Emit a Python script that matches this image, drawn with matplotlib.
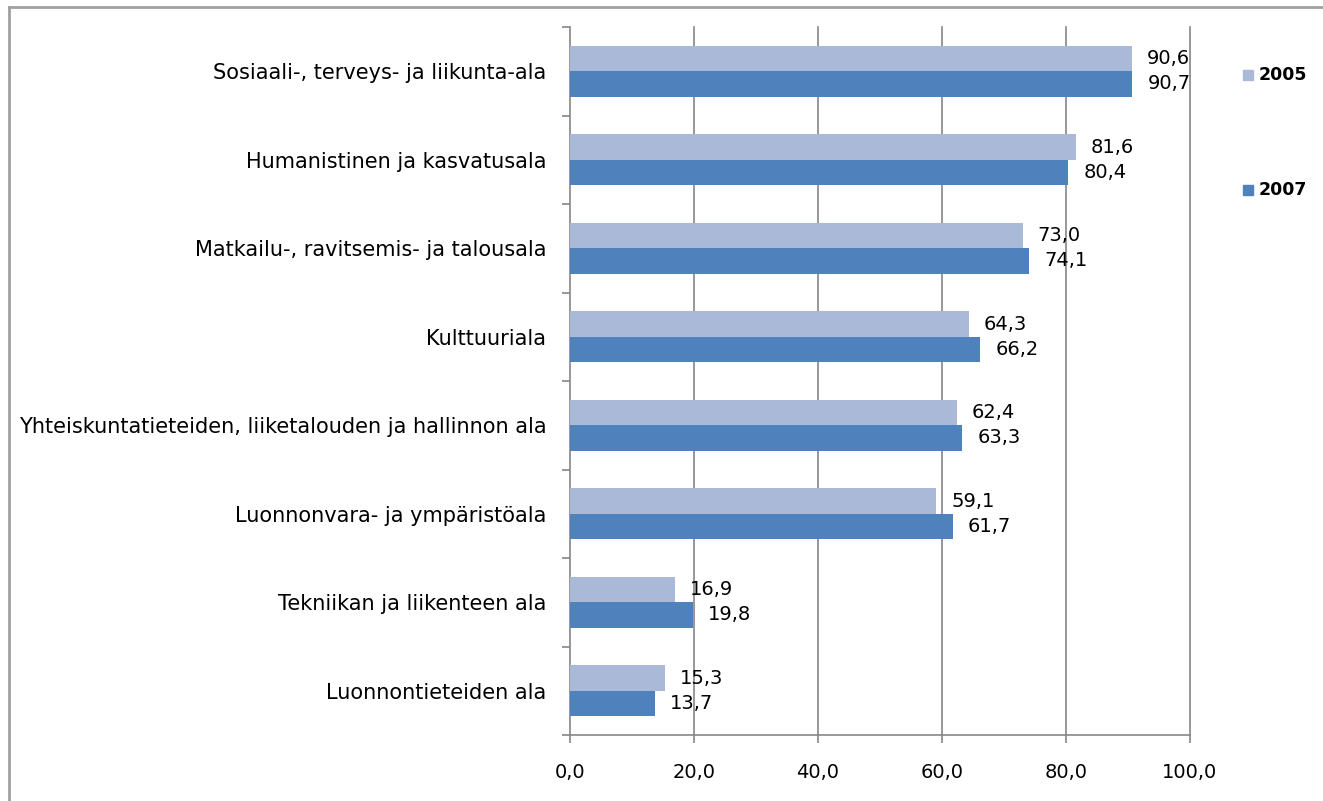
import numpy as np
import matplotlib.pyplot as plt
from matplotlib.lines import Line2D

categories = ["Sosiaali-, terveys- ja liikunta-ala",
              "Humanistinen ja kasvatusala",
              "Matkailu-, ravitsemis- ja talousala",
              "Kulttuuriala",
              "Yhteiskuntatieteiden, liiketalouden ja hallinnon ala",
              "Luonnonvara- ja ympäristöala",
              "Tekniikan ja liikenteen ala",
              "Luonnontieteiden ala"]
v2005 = [90.6, 81.6, 73.0, 64.3, 62.4, 59.1, 16.9, 15.3]
v2007 = [90.7, 80.4, 74.1, 66.2, 63.3, 61.7, 19.8, 13.7]
xticks = [0, 20, 40, 60, 80, 100]

c05 = "#AAB9D7"
c07 = "#4F81BD"
grid = "#868686"

plt.rcParams['font.family'] = ['DejaVu Sans']
fs = 15

fig = plt.figure(figsize=(13.23, 8.01), dpi=100)
ax = fig.add_axes([570/1323, 1-735/801, 620/1323, 708/801])

n = len(categories)
y = np.arange(n)
h = 0.288
b1 = ax.barh(y - h/2, v2005, height=h, color=c05, zorder=3)
b2 = ax.barh(y + h/2, v2007, height=h, color=c07, zorder=3)

def fmt(v):
    return ("%.1f" % v).replace(".", ",")

for bars, vals in ((b1, v2005), (b2, v2007)):
    for r, v in zip(bars, vals):
        ax.annotate(fmt(v), (v, r.get_y() + r.get_height()/2), xytext=(15, 0),
                    textcoords="offset pixels",
                    va="center", ha="left", fontsize=14)

ax.set_xlim(0, 100)
ax.set_ylim(n - 0.5, -0.5)
ax.set_xticks(xticks)
ax.set_xticklabels([fmt(v) for v in xticks], fontsize=14)
ax.set_yticks(y)
ax.set_yticklabels(categories, fontsize=fs)
ax.set_yticks(np.arange(n + 1) - 0.5, minor=True)
ax.tick_params(axis="y", which="major", length=0, pad=17)
ax.tick_params(axis="y", which="minor", length=6, color=grid, width=1.2)
ax.tick_params(axis="x", length=6, color=grid, width=1.2, pad=14)
for xv in xticks[1:]:
    ax.axvline(xv, color=grid, linewidth=1.2, zorder=0, clip_on=False)
for s in ("top", "right"):
    ax.spines[s].set_visible(False)
for s in ("left", "bottom"):
    ax.spines[s].set_color(grid)
    ax.spines[s].set_linewidth(1.2)

# outer chart border (top and left only visible)
fig.add_artist(Line2D([9/1323, 1], [1-7/801, 1-7/801], color="#A0A0A0", lw=2))
fig.add_artist(Line2D([9/1323, 9/1323], [0, 1-7/801], color="#A0A0A0", lw=2))

# legend
for yy, col, lab in ((75, c05, "2005"), (190, c07, "2007")):
    fig.patches.append(plt.Rectangle((1243/1323, 1-(yy+5)/801), 10/1323, 10/801,
                                     color=col, transform=fig.transFigure))
    fig.text(1259/1323, 1-yy/801, lab, fontsize=12.5, fontweight="bold", va="center")

fig.savefig("out.png", dpi=100)
